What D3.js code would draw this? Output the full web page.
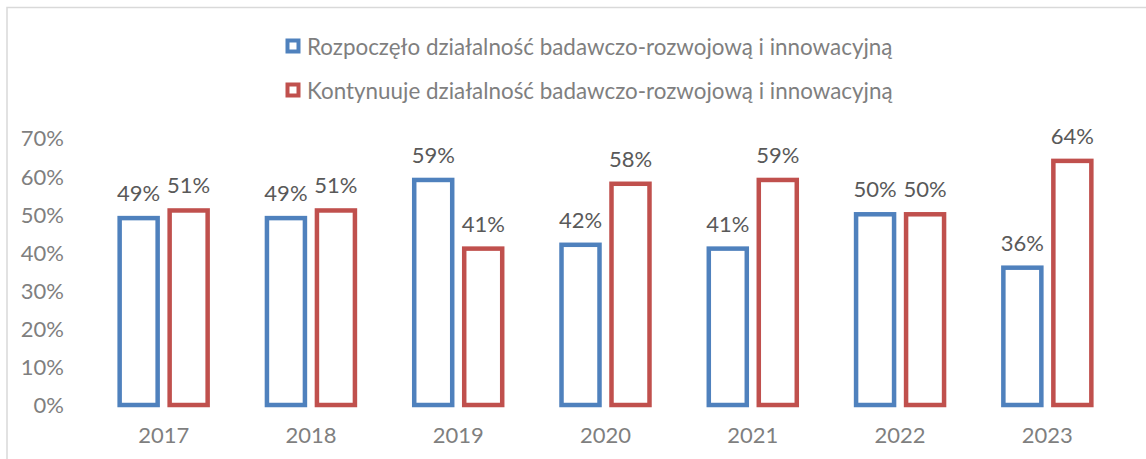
<!DOCTYPE html>
<html>
<head>
<meta charset="utf-8">
<script src="https://cdn.jsdelivr.net/npm/d3@7"></script>
<style>
  html, body { margin: 0; padding: 0; background: #fff; }
  svg { display: block; font-family: Lato, "Open Sans", sans-serif; }
</style>
</head>
<body>
<svg id="chart" width="1146" height="459"></svg>
<script>
// data
var years = ["2017", "2018", "2019", "2020", "2021", "2022", "2023"];
var started = [0.49, 0.49, 0.59, 0.42, 0.41, 0.50, 0.36];
var continued = [0.51, 0.51, 0.41, 0.58, 0.59, 0.50, 0.64];
var seriesNames = [
  "Rozpoczęło działalność badawczo-rozwojową i innowacyjną",
  "Kontynuuje działalność badawczo-rozwojową i innowacyjną"
];
var seriesColors = ["#4f81bd", "#c0504d"];
var yTicks = [0, 0.1, 0.2, 0.3, 0.4, 0.5, 0.6, 0.7];

var svg = d3.select("#chart");

// chart frame (runs off the right and bottom edge)
svg.append("rect")
  .attr("x", 7).attr("y", 7.5)
  .attr("width", 1300).attr("height", 600)
  .attr("fill", "none")
  .attr("stroke", "#d9d9d9")
  .attr("stroke-width", 1.5);

var x0 = d3.scaleBand()
  .domain(years)
  .range([90, 1121])
  .paddingInner(0.4026)
  .paddingOuter(0.2013);

var x1 = d3.scaleBand()
  .domain([0, 1])
  .range([0, x0.bandwidth()])
  .paddingInner(0.24);

var y = d3.scaleLinear().domain([0, 0.7]).range([405, 138]);

var pct = d3.format(".0%");

// y axis labels only, no lines
var yAxis = svg.append("g")
  .attr("transform", "translate(64,0)")
  .call(d3.axisLeft(y).tickValues(yTicks).tickFormat(pct).tickSize(0).tickPadding(0));
yAxis.select(".domain").remove();
yAxis.selectAll("text")
  .attr("font-family", "Lato, sans-serif")
  .attr("font-size", 22)
  .attr("fill", "#7f7f7f")
  .attr("dy", "0.36em");

// x axis labels
var xAxis = svg.append("g")
  .attr("transform", "translate(0,405)")
  .call(d3.axisBottom(x0).tickSize(0).tickPadding(22));
xAxis.select(".domain").remove();
xAxis.selectAll("text")
  .attr("font-family", "Lato, sans-serif")
  .attr("font-size", 22)
  .attr("fill", "#7f7f7f")
  .attr("dy", "0.71em");

var rows = years.map(function(yr, i) {
  return { year: yr, values: [started[i], continued[i]] };
});

var groups = svg.selectAll("g.year")
  .data(rows)
  .enter().append("g")
  .attr("class", "year")
  .attr("transform", function(d) { return "translate(" + x0(d.year) + ",0)"; });

var cells = groups.selectAll("g.bar")
  .data(function(d) { return d.values.map(function(v, s) { return { s: s, v: v }; }); })
  .enter().append("g")
  .attr("class", "bar");

cells.append("rect")
  .attr("x", function(d) { return x1(d.s); })
  .attr("y", function(d) { return y(d.v); })
  .attr("width", x1.bandwidth())
  .attr("height", function(d) { return y(0) - y(d.v); })
  .attr("fill", "#fff")
  .attr("stroke", function(d) { return seriesColors[d.s]; })
  .attr("stroke-width", 4.5);

cells.append("text")
  .attr("x", function(d) { return x1(d.s) + x1.bandwidth() / 2; })
  .attr("y", function(d) { return y(d.v) - 17; })
  .attr("text-anchor", "middle")
  .attr("font-size", 22)
  .attr("fill", "#595959")
  .text(function(d) { return pct(d.v); });

// legend, two rows
var legend = svg.selectAll("g.legend")
  .data(seriesNames)
  .enter().append("g")
  .attr("class", "legend")
  .attr("transform", function(d, i) { return "translate(286," + (47 + i * 44) + ")"; });

legend.append("rect")
  .attr("x", 1.5).attr("y", -6.5)
  .attr("width", 11).attr("height", 11)
  .attr("fill", "#fff")
  .attr("stroke", function(d, i) { return seriesColors[i]; })
  .attr("stroke-width", 4);

legend.append("text")
  .attr("x", 21)
  .attr("y", 0)
  .attr("dy", "0.35em")
  .attr("font-size", 22.4)
  .attr("fill", "#7f7f7f")
  .text(function(d) { return d; });
</script>
</body>
</html>
